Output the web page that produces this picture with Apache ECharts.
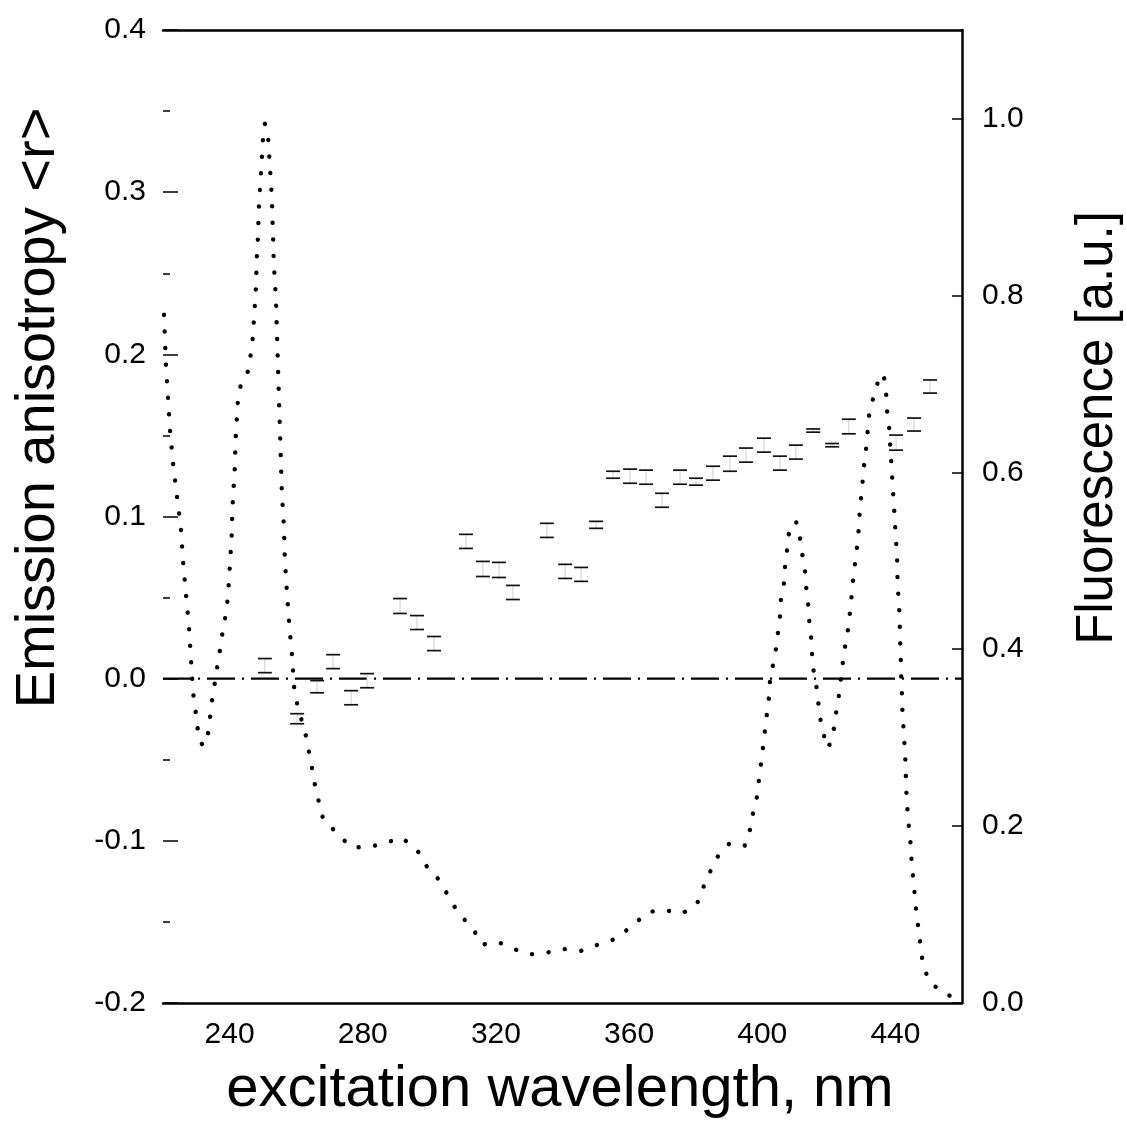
<!DOCTYPE html>
<html><head><meta charset="utf-8">
<script src="https://cdn.jsdelivr.net/npm/echarts@6.0.0/dist/echarts.min.js"></script>
<style>html,body{margin:0;padding:0;background:#fff}#c{width:1126px;height:1128px}</style>
</head><body><div id="c"></div>
<script>
// ---- data ----
const xTickLabels = [240, 280, 320, 360, 400, 440];
const rightTickLabels = [0, 0.2, 0.4, 0.6, 0.8, 1.0];

// fluorescence excitation spectrum (dotted curve, right axis)
const fluorWl = [220.3,220.9,221.5,222.1,223.0,224.2,225.4,226.0,226.9,227.8,228.4,229.0,229.6,230.2,230.8,232.0,233.2,233.8,234.4,235.0,235.9,236.5,237.4,238.0,238.9,239.5,239.8,240.1,240.4,240.7,240.8,241.0,241.3,241.6,241.7,241.9,242.2,242.5,243.4,245.8,246.4,247.0,247.3,247.6,247.9,248.2,248.5,248.8,249.1,249.4,249.7,250.0,250.6,251.5,251.8,252.1,252.7,253.0,253.3,253.9,254.2,254.5,254.8,255.1,255.4,255.7,256.3,256.6,257.2,257.9,258.8,259.4,260.3,263.0,263.9,264.8,265.7,266.9,268.1,272.0,276.5,281.6,286.7,291.8,296.9,299.6,303.5,305.9,308.9,313.1,315.8,320.6,325.4,330.2,335.4,340.5,345.6,350.7,355.5,360.6,365.7,370.8,375.9,380.4,382.2,384.3,386.7,390.3,394.8,396.3,397.2,398.4,399.0,399.6,400.2,400.8,401.4,402.0,402.3,403.2,404.1,404.7,405.3,405.6,406.5,406.8,407.4,407.7,410.1,411.3,411.9,412.8,413.1,413.7,414.0,414.6,414.9,415.2,416.1,416.7,417.3,418.2,419.8,421.3,421.9,422.8,423.4,424.0,424.6,425.5,426.1,426.7,427.0,427.6,428.2,428.8,429.1,429.4,430.0,430.3,430.9,431.5,431.8,432.4,434.2,435.1,436.6,437.2,437.5,438.1,438.4,438.7,439.0,439.3,439.6,439.9,440.2,440.5,440.6,440.8,441.1,441.3,441.4,441.6,441.7,441.9,442.0,442.3,442.6,442.9,443.1,443.2,443.5,443.8,444.4,444.7,445.0,445.6,445.9,446.5,447.1,447.7,448.3,450.4,455.5,460.0];
const fluorVal = [0.778,0.721,0.684,0.648,0.611,0.573,0.536,0.500,0.462,0.425,0.389,0.352,0.335,0.317,0.298,0.291,0.294,0.313,0.331,0.350,0.369,0.386,0.405,0.423,0.440,0.459,0.477,0.495,0.513,0.533,0.552,0.570,0.588,0.607,0.626,0.644,0.663,0.681,0.700,0.716,0.735,0.753,0.772,0.790,0.808,0.845,0.864,0.900,0.919,0.937,0.955,0.975,0.994,0.984,0.964,0.946,0.910,0.873,0.834,0.798,0.761,0.724,0.686,0.650,0.614,0.577,0.540,0.502,0.466,0.428,0.391,0.356,0.338,0.301,0.283,0.265,0.245,0.226,0.208,0.193,0.176,0.176,0.181,0.187,0.170,0.152,0.137,0.119,0.101,0.084,0.066,0.069,0.061,0.055,0.057,0.061,0.059,0.066,0.072,0.086,0.103,0.105,0.101,0.112,0.130,0.148,0.166,0.181,0.178,0.196,0.214,0.233,0.252,0.270,0.289,0.308,0.327,0.345,0.363,0.382,0.400,0.418,0.436,0.456,0.474,0.492,0.510,0.528,0.545,0.527,0.510,0.491,0.473,0.455,0.436,0.417,0.399,0.380,0.363,0.344,0.324,0.306,0.288,0.304,0.322,0.341,0.360,0.378,0.397,0.415,0.434,0.452,0.470,0.488,0.508,0.526,0.544,0.562,0.581,0.599,0.617,0.637,0.655,0.674,0.692,0.711,0.707,0.689,0.669,0.651,0.632,0.614,0.596,0.577,0.559,0.540,0.521,0.503,0.484,0.466,0.448,0.430,0.410,0.392,0.374,0.356,0.337,0.318,0.300,0.282,0.263,0.244,0.225,0.207,0.188,0.170,0.152,0.133,0.115,0.097,0.078,0.061,0.042,0.023,0.009,0.005];

// emission anisotropy <r> with error bars (left axis)
const anisoWl   = [250.6,260.3,266.3,271.1,276.5,281.3,291.2,296.3,301.4,311.0,316.1,320.9,325.1,335.3,340.8,345.6,350.1,355.2,360.3,365.1,369.9,375.3,380.1,385.2,390.3,395.1,400.5,405.3,410.1,415.3,421.0,426.0,440.2,445.6,450.4];
const anisoLow  = [0.0037,-0.0278,-0.0087,0.0062,-0.0161,-0.0056,0.0402,0.0303,0.0173,0.0803,0.0630,0.0624,0.0488,0.0871,0.0618,0.0600,0.0927,0.1236,0.1205,0.1199,0.1057,0.1199,0.1193,0.1224,0.1279,0.1335,0.1397,0.1286,0.1354,0.152,0.143,0.151,0.1409,0.1527,0.1761];
const anisoHigh = [0.0124,-0.0216,-0.0012,0.0148,-0.0074,0.0031,0.0494,0.0389,0.0260,0.0890,0.0723,0.0717,0.0575,0.0958,0.0705,0.0686,0.0970,0.1279,0.1292,0.1286,0.1143,0.1286,0.1236,0.1310,0.1372,0.1422,0.1483,0.1372,0.1440,0.154,0.145,0.160,0.1502,0.1607,0.1842];
const zeroLine = [[220, 0], [460, 0]];

// ---- chart ----
const FONT = '"Liberation Sans", Arial, Helvetica, sans-serif';
const chart = echarts.init(document.getElementById('c'), null, {renderer: 'canvas'});
const fluorData = fluorWl.map((w, i) => [w, fluorVal[i]]);
const anisoData = anisoWl.map((w, i) => [w, anisoLow[i], anisoHigh[i]]);
const tickFont = {color: '#000', fontSize: 30, fontFamily: FONT};

chart.setOption({
  animation: false,
  backgroundColor: '#fff',
  grid: {left: 163, right: 164, top: 30, bottom: 125, containLabel: false},
  xAxis: [{
    type: 'value', min: 220, max: 460, position: 'bottom',
    axisLine: {show: true, onZero: false, lineStyle: {color: '#000', width: 2.5}},
    axisTick: {show: false},
    splitLine: {show: false},
    axisLabel: Object.assign({customValues: xTickLabels, margin: 17,
      formatter: v => String(Math.round(v))}, tickFont)
  }, {
    type: 'value', min: 220, max: 460, position: 'top',
    axisLine: {show: true, onZero: false, lineStyle: {color: '#000', width: 2.5}},
    axisTick: {show: false}, axisLabel: {show: false}, splitLine: {show: false}
  }],
  yAxis: [{
    type: 'value', min: -0.2, max: 0.4, interval: 0.1, position: 'left',
    axisLine: {show: false, onZero: false},
    axisTick: {show: true, inside: true, length: 15, lineStyle: {color: '#000', width: 1.5}},
    minorTick: {show: true, splitNumber: 2, length: 7, lineStyle: {color: '#000', width: 1.5}},
    splitLine: {show: false},
    axisLabel: Object.assign({margin: 17, formatter: v => v.toFixed(1)}, tickFont)
  }, {
    type: 'value', min: 0, max: 1.1, position: 'right',
    axisLine: {show: true, onZero: false, lineStyle: {color: '#000', width: 2.5}},
    axisTick: {show: true, inside: true, length: 10, customValues: rightTickLabels, lineStyle: {color: '#000', width: 1.5}},
    splitLine: {show: false},
    axisLabel: Object.assign({customValues: rightTickLabels, margin: 20, formatter: v => v.toFixed(1)}, tickFont)
  }],
  graphic: [
    {type: 'text', x: 39, y: 408, rotation: Math.PI / 2,
      style: {text: 'Emission anisotropy <r>', font: '56px ' + FONT, fill: '#000', align: 'center', verticalAlign: 'middle'}},
    {type: 'text', x: 1098, y: 428, rotation: Math.PI / 2,
      style: {text: 'Fluorescence [a.u.]', font: '51px ' + FONT, fill: '#000', align: 'center', verticalAlign: 'middle'}},
    {type: 'text', x: 560, y: 1090,
      style: {text: 'excitation wavelength, nm', font: '58px ' + FONT, fill: '#000', align: 'center', verticalAlign: 'middle'}}
  ],
  series: [{
    name: 'zero', type: 'line', xAxisIndex: 0, yAxisIndex: 0, data: zeroLine,
    symbol: 'none', silent: true, z: 2,
    lineStyle: {color: '#000', width: 2.2, type: [28, 7, 2, 7]}
  }, {
    name: 'Fluorescence', type: 'line', xAxisIndex: 0, yAxisIndex: 1, data: fluorData,
    symbol: 'none', silent: true, z: 3,
    lineStyle: {color: '#000', width: 4.4, type: [0.1, 16.5], cap: 'round', join: 'round'}
  }, {
    name: 'Anisotropy', type: 'custom', xAxisIndex: 0, yAxisIndex: 0, data: anisoData,
    encode: {x: 0, y: [1, 2]}, z: 4, silent: true,
    renderItem: function (params, api) {
      const x = api.value(0);
      const pLo = api.coord([x, api.value(1)]);
      const pHi = api.coord([x, api.value(2)]);
      const hw = 7;
      return {type: 'group', children: [
        {type: 'line', shape: {x1: pHi[0], y1: pHi[1], x2: pLo[0], y2: pLo[1]}, style: {stroke: '#cfcfcf', lineWidth: 1}},
        {type: 'line', shape: {x1: pHi[0] - hw, y1: pHi[1], x2: pHi[0] + hw, y2: pHi[1]}, style: {stroke: '#111', lineWidth: 1.7}},
        {type: 'line', shape: {x1: pLo[0] - hw, y1: pLo[1], x2: pLo[0] + hw, y2: pLo[1]}, style: {stroke: '#111', lineWidth: 1.7}}
      ]};
    }
  }]
});
</script>
</body></html>
